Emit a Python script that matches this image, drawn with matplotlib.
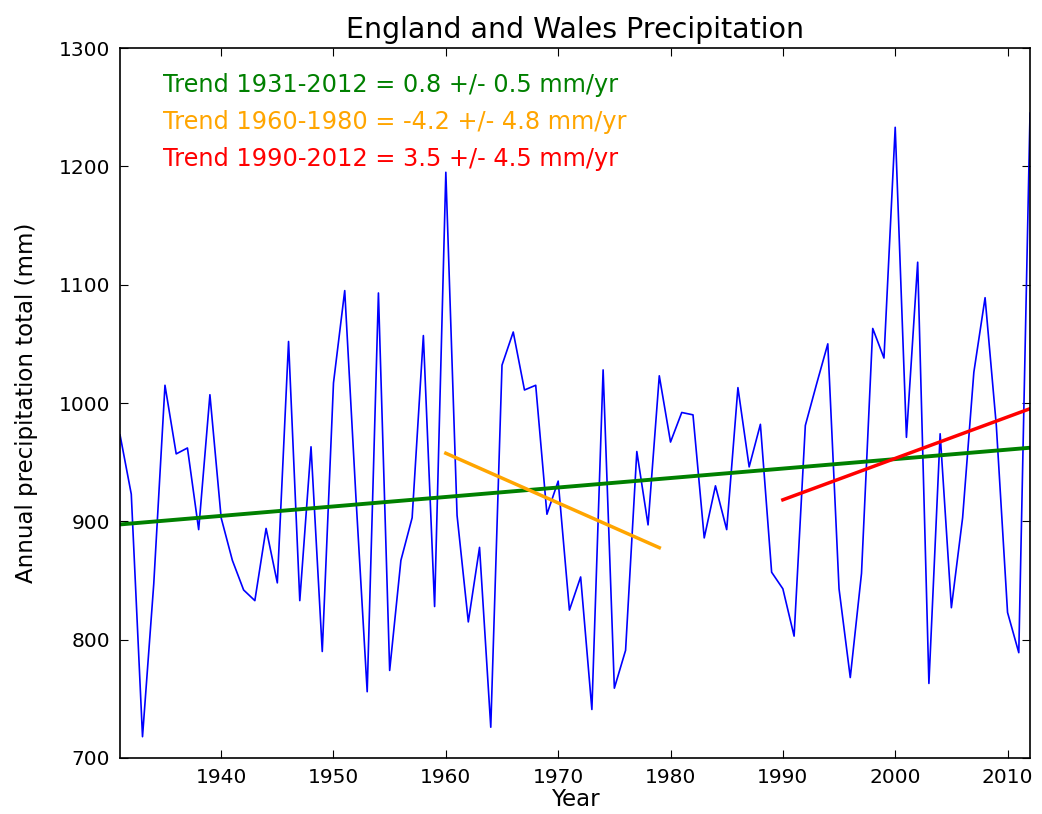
import numpy as np
import matplotlib
matplotlib.use('Agg')
import matplotlib.pyplot as plt

# annual totals, mm
years = np.arange(1931, 2013)
precip = [
	973, 923, 718, 847, 1015, 957, 962, 893, 1007, 903,
	867, 842, 833, 894, 848, 1052, 833, 963, 790, 1017,
	1095, 920, 756, 1093, 774, 867, 903, 1057, 828, 1195,
	905, 815, 878, 726, 1032, 1060, 1011, 1015, 906, 934,
	825, 853, 741, 1028, 759, 791, 959, 897, 1023, 967,
	992, 990, 886, 930, 893, 1013, 946, 982, 857, 843,
	803, 981, 1016, 1050, 843, 768, 856, 1063, 1038, 1233,
	971, 1119, 763, 974, 827, 903, 1026, 1089, 981, 823,
	789, 1245,
]

# trend periods: start, end (as labelled), last fitted year, slope, error
trend_start = [1931, 1960, 1990]
trend_end = [2012, 1980, 2012]
trend_last = [2012, 1979, 2012]
trend_slope = [0.8, -4.2, 3.5]
trend_err = [0.5, 4.8, 4.5]
trend_colors = ['green', 'orange', 'red']
trend_width = [2.8, 2.5, 2.5]

precip = np.array(precip, dtype=float)

fig = plt.figure(figsize=(10.42, 8.14), dpi=100)
ax = fig.add_axes([0.1152, 0.0688, 0.8733, 0.8722])

ax.plot(years, precip, color='blue', linewidth=1.2)

for i in range(len(trend_slope)):
	sel = (years >= trend_start[i]) & (years <= trend_last[i])
	xm = years[sel].mean()
	ym = precip[sel].mean()
	xs = np.array([trend_start[i], trend_last[i]])
	ys = ym + trend_slope[i] * (xs - xm)
	ax.plot(xs, ys, color=trend_colors[i], linewidth=trend_width[i])
	ax.text(0.047, 0.948 - i * 0.052,
		'Trend %d-%d = %.1f +/- %.1f mm/yr' % (trend_start[i], trend_end[i],
			trend_slope[i], trend_err[i]),
		color=trend_colors[i], fontsize=17.3, transform=ax.transAxes, va='center')

ax.set_xlim(1931, 2012)
ax.set_ylim(700, 1300)
ax.set_xticks(np.arange(1940, 2011, 10))
ax.set_yticks(np.arange(700, 1301, 100))
ax.tick_params(direction='in', top=True, right=True, length=6, labelsize=14.5, pad=7)
for s in ax.spines.values():
	s.set_linewidth(1.2)

ax.set_title('England and Wales Precipitation', fontsize=20.5, pad=7)
ax.set_xlabel('Year', fontsize=16.5, labelpad=1)
ax.set_ylabel('Annual precipitation total (mm)', fontsize=16.5, labelpad=15)

fig.savefig('out.png', dpi=100)
